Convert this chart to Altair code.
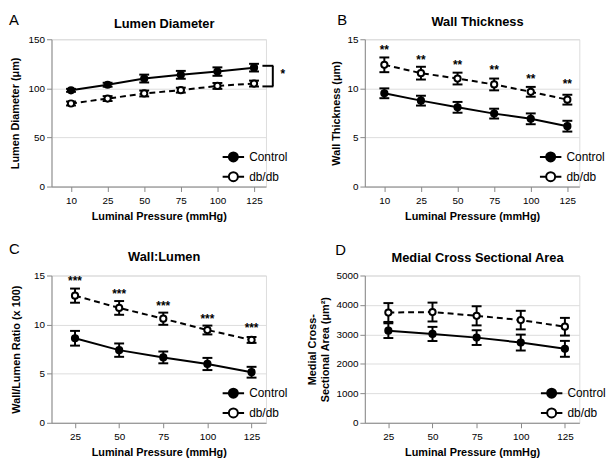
import altair as alt
import pandas as pd

FONT = "Liberation Sans"

# ---------------- data ----------------
pressures6 = ["10", "25", "50", "75", "100", "125"]
pressures5 = ["25", "50", "75", "100", "125"]
groups = ["Control", "db/db"]

# A: Lumen Diameter
ctrl_A = [98.0, 103.7, 110.0, 113.8, 117.1, 121.1]
ctrl_A_err = [1.5, 2.0, 4.0, 4.0, 4.3, 3.9]
db_A = [84.6, 89.6, 94.8, 98.2, 102.5, 104.9]
db_A_err = [2.0, 2.5, 3.0, 2.5, 3.0, 3.0]
bracket_A = {"p": "125", "top": 123.0, "bottom": 102.0, "star": 114.5, "label": "*"}

# B: Wall Thickness
ctrl_B = [9.5, 8.75, 8.07, 7.43, 6.9, 6.15]
ctrl_B_err = [0.5, 0.5, 0.55, 0.5, 0.55, 0.55]
db_B = [12.4, 11.55, 11.0, 10.4, 9.65, 8.85]
db_B_err = [0.75, 0.65, 0.6, 0.6, 0.5, 0.5]
stars_B_y = [13.9, 12.9, 12.4, 11.9, 10.9, 10.4]
stars_B_txt = ["**"] * 6

# C: Wall:Lumen
ctrl_C = [8.61, 7.4, 6.66, 5.99, 5.15]
ctrl_C_err = [0.75, 0.68, 0.6, 0.62, 0.55]
db_C = [12.95, 11.7, 10.6, 9.45, 8.44]
db_C_err = [0.72, 0.7, 0.62, 0.45, 0.3]
stars_C_y = [14.4, 13.15, 11.9, 10.6, 9.6]
stars_C_txt = ["***"] * 5

# D: Medial Cross Sectional Area
ctrl_D = [3128, 3016, 2892, 2724, 2511]
ctrl_D_err = [250, 240, 250, 270, 270]
db_D = [3744, 3760, 3632, 3487, 3262]
db_D_err = [320, 320, 325, 315, 300]

X_TITLE = "Luminal Pressure (mmHg)"
LEGEND_PATH = ("M-1.55,0H-0.65M0.65,0H1.55"
               "M0.65,0A0.65,0.65,0,1,1,-0.65,0A0.65,0.65,0,1,1,0.65,0Z")


def panel(letter, letter_xy, title, title_y, ytitle, ytitle_pad, ydomain,
          yticks, pressures, ctrl, ctrl_err, db, db_err, legend_xy,
          stars_y=None, stars_txt=None, bracket=None):
    rows = []
    for g, vals, errs in (("Control", ctrl, ctrl_err), ("db/db", db, db_err)):
        for p, v, e in zip(pressures, vals, errs):
            rows.append({"p": p, "group": g, "v": v, "lo": v - e, "hi": v + e})
    df = pd.DataFrame(rows)

    xscale = alt.Scale(type="point", padding=0.43, align=0.62)
    xaxis = alt.Axis(title=X_TITLE, labelAngle=0, labelPadding=4, titlePadding=5)
    yscale = alt.Scale(domain=ydomain, nice=False)
    yaxis = alt.Axis(title=ytitle, values=yticks, format="d", titlePadding=ytitle_pad,
                     labelPadding=2, titleLineHeight=13)

    def X():
        return alt.X("p:N", sort=pressures, scale=xscale, axis=xaxis)

    def Y(field):
        return alt.Y(field, scale=yscale, axis=yaxis)

    base = alt.Chart(df)
    line_ctrl = base.transform_filter(alt.datum.group == "Control").mark_line(
        color="black", strokeWidth=2).encode(x=X(), y=Y("v:Q"))
    line_db = base.transform_filter(alt.datum.group == "db/db").mark_line(
        color="black", strokeWidth=2, strokeDash=[6, 4]).encode(x=X(), y=Y("v:Q"))
    bars = base.mark_rule(color="black", strokeWidth=2).encode(
        x=X(), y=Y("lo:Q"), y2="hi:Q")
    cap_lo = base.mark_tick(color="black", size=10, thickness=2, opacity=1).encode(
        x=X(), y=Y("lo:Q"))
    cap_hi = base.mark_tick(color="black", size=10, thickness=2, opacity=1).encode(
        x=X(), y=Y("hi:Q"))
    legend = alt.Legend(orient="none", legendX=legend_xy[0], legendY=legend_xy[1],
                        title=None, symbolType=LEGEND_PATH, symbolSize=196,
                        symbolStrokeColor="black", symbolStrokeWidth=2, padding=0,
                        rowPadding=2, labelOffset=8, labelFont=FONT, labelFontSize=12,
                        labelFontWeight="normal", labelColor="black")
    pts = base.mark_point(filled=True, size=40, stroke="black", strokeWidth=2,
                          opacity=1, shape="circle").encode(
        x=X(), y=Y("v:Q"),
        fill=alt.Fill("group:N", scale=alt.Scale(domain=groups, range=["black", "white"]),
                      legend=legend))

    layers = [line_ctrl, line_db, bars, cap_lo, cap_hi, pts]

    if stars_y is not None:
        sdf = pd.DataFrame({"p": pressures, "s": stars_y, "t": stars_txt})
        layers.append(alt.Chart(sdf).mark_text(font=FONT, fontSize=12, fontWeight="bold",
                                               color="black", baseline="middle").encode(
            x=X(), y=Y("s:Q"), text="t:N"))

    if bracket is not None:
        bdf = pd.DataFrame([bracket])
        bch = alt.Chart(bdf)
        layers.append(bch.mark_rule(color="black", strokeWidth=2, xOffset=19).encode(
            x=X(), y=Y("top:Q"), y2="bottom:Q"))
        layers.append(bch.mark_tick(color="black", size=11, thickness=2, xOffset=14,
                                    opacity=1).encode(x=X(), y=Y("top:Q")))
        layers.append(bch.mark_tick(color="black", size=11, thickness=2, xOffset=14,
                                    opacity=1).encode(x=X(), y=Y("bottom:Q")))
        layers.append(bch.mark_text(font=FONT, fontSize=12, fontWeight="bold",
                                    color="black", xOffset=29, baseline="middle").encode(
            x=X(), y=Y("star:Q"), text="label:N"))

    ldf = pd.DataFrame({"t": [letter], "title": [title]})
    lch = alt.Chart(ldf)
    layers.append(lch.mark_text(font=FONT, fontSize=15, color="black",
                                align="left", baseline="alphabetic").encode(
        text="t:N", x=alt.value(letter_xy[0]), y=alt.value(letter_xy[1])))
    layers.append(lch.mark_text(font=FONT, fontSize=13, fontWeight="bold", color="black",
                                align="center", baseline="middle").encode(
        text="title:N", x=alt.value(114), y=alt.value(title_y)))

    return alt.layer(*layers).properties(width=217, height=149)


pA = panel("A", (-43, -14), "Lumen Diameter", -15, "Lumen Diameter (μm)", 8,
           [0, 150], [0, 50, 100, 150], pressures6, ctrl_A, ctrl_A_err, db_A, db_A_err,
           (176, 111), bracket=bracket_A)
pB = panel("B", (-28, -14), "Wall Thickness", -17, "Wall Thickness (μm)", 5,
           [0, 15], [0, 5, 10, 15], pressures6, ctrl_B, ctrl_B_err, db_B, db_B_err,
           (180, 111), stars_y=stars_B_y, stars_txt=stars_B_txt)
pC = panel("C", (-43, -22), "Wall:Lumen", -19, "Wall/Lumen Ratio  (x 100)", 12,
           [0, 15], [0, 5, 10, 15], pressures5, ctrl_C, ctrl_C_err, db_C, db_C_err,
           (176, 111), stars_y=stars_C_y, stars_txt=stars_C_txt)
pD = panel("D", (-30, -21), "Medial Cross Sectional Area", -18,
           ["Medial Cross-", "Sectional Area (μm²)"], 6,
           [0, 5000], [0, 1000, 2000, 3000, 4000, 5000], pressures5,
           ctrl_D, ctrl_D_err, db_D, db_D_err, (181, 111))

chart = alt.concat(pA, pB, pC, pD, columns=2, spacing={"row": 90, "column": 100},
                   bounds="flush").resolve_scale(
    fill="independent"
).resolve_legend(fill="independent").properties(
    padding={"left": 0, "top": 2, "right": 0, "bottom": 0}
).configure_view(strokeWidth=0).configure_axis(
    grid=False, domainColor="black", domainWidth=1.5, tickColor="black", tickWidth=1.5,
    tickSize=4, labelFont=FONT, labelFontWeight="bold", labelFontSize=10,
    labelColor="black", titleFont=FONT, titleFontWeight="bold", titleFontSize=11,
    titleColor="black"
).configure(background="white")

chart.save("out.html", embed_options={"renderer": "svg", "actions": False})
